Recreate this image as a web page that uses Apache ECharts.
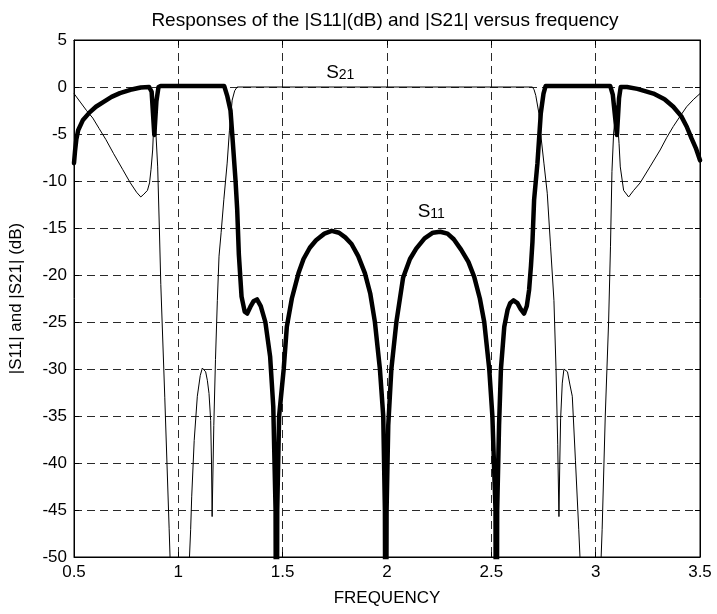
<!DOCTYPE html>
<html>
<head>
<meta charset="utf-8">
<title>Responses of |S11| and |S21|</title>
<script src="https://cdn.jsdelivr.net/npm/echarts@6/dist/echarts.min.js"></script>
<style>
    html, body { margin: 0; padding: 0; background: #fff; }
    #chart { width: 717px; height: 614px; }
</style>
</head>
<body>
<div id="chart"></div>
<script>
// |S11| in dB (thick curve)
const s11Freq = [0.5, 0.505, 0.511, 0.52, 0.543, 0.575, 0.605, 0.64, 0.68, 0.72, 0.77, 0.82, 0.86, 0.872, 0.885, 0.895, 0.905, 0.915,
    1.22, 1.235, 1.25, 1.258, 1.274, 1.282, 1.29, 1.303, 1.318, 1.33, 1.345, 1.36, 1.377, 1.395, 1.417, 1.44, 1.455, 1.466, 1.47,
    1.474, 1.483, 1.505, 1.52, 1.544, 1.576, 1.6, 1.63, 1.66, 1.7, 1.735, 1.77, 1.8, 1.83, 1.862, 1.894, 1.92, 1.942, 1.966, 1.982, 1.99, 1.994,
    1.998, 2.006, 2.021, 2.045, 2.077, 2.11, 2.14, 2.18, 2.22, 2.255, 2.29, 2.32, 2.355, 2.39, 2.418, 2.445, 2.466, 2.49, 2.505, 2.52, 2.524,
    2.528, 2.537, 2.546, 2.562, 2.578, 2.59, 2.606, 2.625, 2.64, 2.657, 2.67, 2.681, 2.69, 2.697, 2.705, 2.721, 2.737, 2.75, 2.76,
    3.07, 3.082, 3.102, 3.112, 3.12, 3.15, 3.2, 3.277, 3.33, 3.372, 3.41, 3.436, 3.46, 3.48, 3.5];
const s11Db = [-8.1, -6.8, -5.6, -4.6, -3.5, -2.7, -2.1, -1.6, -1.05, -0.65, -0.3, -0.05, 0, -0.5, -5.1, -1.5, 0, 0.1,
    0.1, -1.0, -2.5, -4.9, -9.9, -13, -17.8, -22.3, -23.9, -24.1, -23.4, -22.8, -22.6, -23.3, -25.0, -28.7, -34, -45, -80,
    -45, -35, -30, -25.5, -22.5, -19.8, -18.3, -17.1, -16.3, -15.6, -15.3, -15.5, -16.0, -16.7, -18, -19.8, -22, -25, -30, -35, -45, -80,
    -45, -36, -30, -25, -20.3, -18.3, -17.2, -16.1, -15.5, -15.4, -15.6, -16.2, -17.3, -18.6, -20.2, -22.5, -25, -30, -35, -45, -80,
    -45, -36, -30, -25.5, -23.7, -23, -22.7, -23, -23.6, -24.1, -23.3, -21.6, -19, -16.5, -12, -8.1, -2.8, -0.7, 0.1,
    0.1, -0.8, -5.1, -1.2, 0, 0, -0.2, -0.7, -1.3, -2.1, -3.1, -4.2, -5.5, -6.5, -7.8];

// |S21| in dB (thin curve)
const s21Freq = [0.5, 0.53, 0.56, 0.59, 0.62, 0.653, 0.69, 0.734, 0.77, 0.8, 0.82, 0.835, 0.852, 0.862, 0.869, 0.877, 0.886, 0.893, 0.901,
    0.909, 0.916, 0.935, 0.956, 1.0, 1.059, 1.064, 1.076, 1.091, 1.105, 1.115, 1.123, 1.131, 1.139, 1.147, 1.155, 1.159, 1.162,
    1.17, 1.178, 1.187, 1.195, 1.205, 1.218, 1.234, 1.245, 1.258, 1.27, 1.282,
    2.697, 2.705, 2.713, 2.728, 2.736, 2.752, 2.768, 2.784, 2.8, 2.81, 2.818, 2.824, 2.828, 2.832, 2.84, 2.848, 2.856, 2.865, 2.876,
    2.888, 2.903, 2.919, 2.98, 3.031, 3.046, 3.062, 3.071, 3.078, 3.086, 3.1, 3.112, 3.118, 3.134, 3.158, 3.182, 3.213, 3.26, 3.309,
    3.34, 3.372, 3.405, 3.436, 3.47, 3.5];
const s21Db = [-0.7, -1.6, -2.5, -3.3, -4.4, -5.6, -7.1, -8.8, -10.2, -11.2, -11.7, -11.4, -11.0, -10.2, -8.8, -6.7, -2, -5.1, -8.5,
    -15, -21, -33, -47, -78, -47.1, -43.6, -37.6, -32.9, -30.7, -29.9, -29.8, -30.3, -31.2, -32.6, -35.5, -40, -45.7,
    -36, -29, -22.7, -18, -15.5, -12, -8.1, -4.6, -1.4, -0.4, 0,
    0, -0.3, -0.9, -2.8, -4.9, -8.1, -11.3, -17, -22.7, -30, -38, -45.7, -40, -35.3, -31.5, -30, -29.8, -30.3, -31.6,
    -32.9, -39.7, -47.1, -78, -47.1, -35, -25, -17, -9, -4.9, -2, -6, -8.5, -11, -11.7, -11, -10.2, -8.5, -6.7,
    -5.4, -4.2, -3.1, -2.1, -1.3, -0.7];

const xTicks = [0.5, 1, 1.5, 2, 2.5, 3, 3.5];
const yTicks = [-50, -45, -40, -35, -30, -25, -20, -15, -10, -5, 0, 5];

const fontFamily = "'Liberation Sans', Arial, sans-serif";
const gridDash = { color: '#2a2a2a', width: 1, type: [8, 5] };

const pairs = (xs, ys) => xs.map((x, i) => [x, ys[i]]);

const curveLabel = (sub) => ({
    show: true,
    position: 'inside',
    formatter: '{s|S}{n|' + sub + '}',
    rich: {
        s: { fontSize: 19, fontFamily: fontFamily, color: '#000', lineHeight: 20, verticalAlign: 'bottom' },
        n: { fontSize: 14, fontFamily: fontFamily, color: '#000', lineHeight: 20, verticalAlign: 'bottom' }
    }
});

const xBase = {
    type: 'value',
    min: xTicks[0],
    max: xTicks[xTicks.length - 1],
    interval: xTicks[1] - xTicks[0],
    axisLine: { show: true, onZero: false, lineStyle: { color: '#000', width: 1 } },
    axisTick: { show: true, inside: true, length: 5, lineStyle: { color: '#000' } }
};
const yBase = {
    type: 'value',
    min: yTicks[0],
    max: yTicks[yTicks.length - 1],
    interval: yTicks[1] - yTicks[0],
    axisLine: { show: true, onZero: false, lineStyle: { color: '#000', width: 1 } },
    axisTick: { show: true, inside: true, length: 5, lineStyle: { color: '#000' } }
};

const option = {
    animation: false,
    backgroundColor: '#fff',
    title: {
        text: 'Responses of the |S11|(dB) and |S21| versus frequency',
        left: 380,
        textAlign: 'center',
        top: 6,
        textStyle: { fontSize: 19, fontWeight: 'normal', color: '#000', fontFamily: fontFamily }
    },
    grid: { left: 71, right: 17, top: 40, bottom: 57, show: true, borderColor: '#000', borderWidth: 1, backgroundColor: '#fff' },
    xAxis: [
        Object.assign({}, xBase, {
            position: 'bottom',
            name: 'FREQUENCY',
            nameLocation: 'middle',
            nameGap: 33,
            nameTextStyle: { fontSize: 17, color: '#000', fontFamily: fontFamily },
            axisLabel: { margin: 7, fontSize: 17, color: '#000', fontFamily: fontFamily },
            splitLine: { show: true, lineStyle: gridDash }
        }),
        Object.assign({}, xBase, { position: 'top', axisLabel: { show: false }, splitLine: { show: false } })
    ],
    yAxis: [
        Object.assign({}, yBase, {
            position: 'left',
            name: '|S11| and |S21| (dB)',
            nameLocation: 'middle',
            nameGap: 49,
            nameTextStyle: { fontSize: 17, color: '#000', fontFamily: fontFamily },
            axisLabel: { margin: 7, fontSize: 17, color: '#000', fontFamily: fontFamily },
            splitLine: { show: true, lineStyle: gridDash }
        }),
        Object.assign({}, yBase, { position: 'right', axisLabel: { show: false }, splitLine: { show: false } })
    ],
    series: [
        {
            name: 'S21',
            type: 'line',
            data: pairs(s21Freq, s21Db),
            showSymbol: false,
            symbol: 'none',
            clip: true,
            lineStyle: { color: '#000', width: 1 },
            markPoint: {
                symbol: 'circle',
                symbolSize: 0,
                data: [{ coord: [1.776, 1.6] }],
                label: curveLabel('21')
            }
        },
        {
            name: 'S11',
            type: 'line',
            data: pairs(s11Freq, s11Db),
            showSymbol: false,
            symbol: 'none',
            clip: true,
            lineStyle: { color: '#000', width: 4.5, cap: 'round', join: 'round' },
            markPoint: {
                symbol: 'circle',
                symbolSize: 0,
                data: [{ coord: [2.212, -13.2] }],
                label: curveLabel('11')
            }
        }
    ]
};

const myChart = echarts.init(document.getElementById('chart'));
myChart.setOption(option);
</script>
</body>
</html>
